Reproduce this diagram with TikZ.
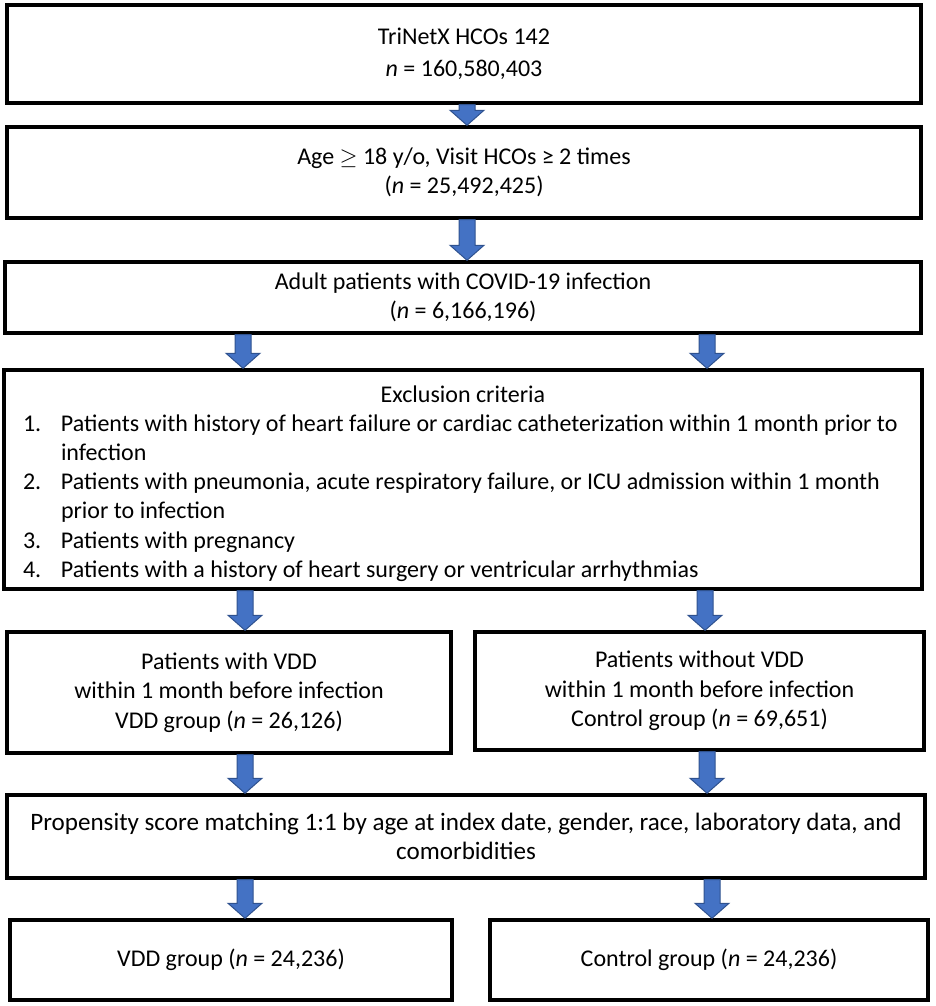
\documentclass[tikz,border=0pt]{standalone}
\usepackage{fontspec}
\setmainfont{Carlito}
\usetikzlibrary{calc}
\definecolor{arrowblue}{HTML}{4472C4}
\definecolor{arrowedge}{HTML}{2F528F}
\tikzset{
	stagebox/.style={draw=black, line width=2.6pt, rectangle, align=center, inner sep=0pt},
	flowarrow/.style={fill=arrowblue, draw=arrowedge, line width=0.75pt, line join=miter}
}
\def\blockarrow(#1)(#2:#3){\draw[flowarrow] let \p1=(#2.south), \p2=(#3.north) in ({#1*0.75pt-6pt},\y1) -- ({#1*0.75pt+6pt},\y1) -- ({#1*0.75pt+6pt},{\y2+11.25pt}) -- ({#1*0.75pt+12.75pt},{\y2+11.25pt}) -- ({#1*0.75pt},\y2) -- ({#1*0.75pt-12.75pt},{\y2+11.25pt}) -- ({#1*0.75pt-6pt},{\y2+11.25pt}) -- cycle;}
\def\exclitem#1#2{\hangindent=28.5pt\hangafter=1\noindent\makebox[28.5pt][l]{#1}#2\par}

\begin{document}
\begin{tikzpicture}[x=0.75pt, y=-0.75pt, every node/.style={font=\fontsize{18pt}{22pt}\selectfont}]
			%%%%% START %%%%%
			
			\useasboundingbox (0, 0) rectangle (935, 1006);
			
			\node[stagebox, minimum width=685.5pt, minimum height=73.5pt] (trinetx) at (464, 54) {TriNetX HCOs 142\\[2pt]\textit{n} = 160,580,403};
			\node[stagebox, minimum width=685.5pt, minimum height=68.25pt] (adultvisits) at (464, 172.5) {Age $\geq$ 18 y/o, Visit HCOs ≥ 2 times\\(\textit{n} = 25,492,425)};
			\node[stagebox, minimum width=687pt, minimum height=53.25pt] (covid) at (463, 297.5) {Adult patients with COVID-19 infection\\(\textit{n} = 6,166,196)};
			
			\node[stagebox, minimum width=688.5pt, minimum height=164.25pt] (exclusion) at (463, 479.5) {\parbox{660pt}{\fontsize{18pt}{21.9pt}\selectfont
				\vspace*{6pt}
				{\centering Exclusion criteria\par}\raggedright
				\exclitem{1.}{Patients with history of heart failure or cardiac catheterization within 1 month prior to\newline infection}
				\exclitem{2.}{Patients with pneumonia, acute respiratory failure, or ICU admission within 1 month\newline prior to infection}
				\exclitem{3.}{Patients with pregnancy}
				\exclitem{4.}{Patients with a history of heart surgery or ventricular arrhythmias}}};
			
			\node[stagebox, minimum width=333pt, minimum height=90.75pt] (vddpts) at (229, 692.5) {Patients with VDD\\within 1 month before infection\\VDD group (\textit{n} = 26,126)};
			\node[stagebox, minimum width=336.75pt, minimum height=88.5pt] (ctrlpts) at (699.5, 691) {Patients without VDD\\within 1 month before infection\\Control group (\textit{n} = 69,651)};
			
			\node[stagebox, minimum width=688.5pt, minimum height=62.25pt, font=\fontsize{18.8pt}{22pt}\selectfont] (psm) at (466, 836.5) {Propensity score matching 1:1 by age at index date, gender, race, laboratory data, and\\comorbidities};
			
			\node[stagebox, minimum width=331.5pt, minimum height=60pt] (vddgroup) at (231, 960) {VDD group (\textit{n} = 24,236)};
			\node[stagebox, minimum width=328.5pt, minimum height=60pt] (ctrlgroup) at (709, 960) {Control group (\textit{n} = 24,236)};
			
			\blockarrow(467)(trinetx:adultvisits)
			\blockarrow(467)(adultvisits:covid)
			\blockarrow(243)(covid:exclusion)
			\blockarrow(707)(covid:exclusion)
			\blockarrow(245)(exclusion:vddpts)
			\blockarrow(705)(exclusion:ctrlpts)
			\blockarrow(245)(vddpts:psm)
			\blockarrow(707)(ctrlpts:psm)
			\blockarrow(245)(psm:vddgroup)
			\blockarrow(712)(psm:ctrlgroup)
			
			%%%%% END %%%%%
\end{tikzpicture}
\end{document}
